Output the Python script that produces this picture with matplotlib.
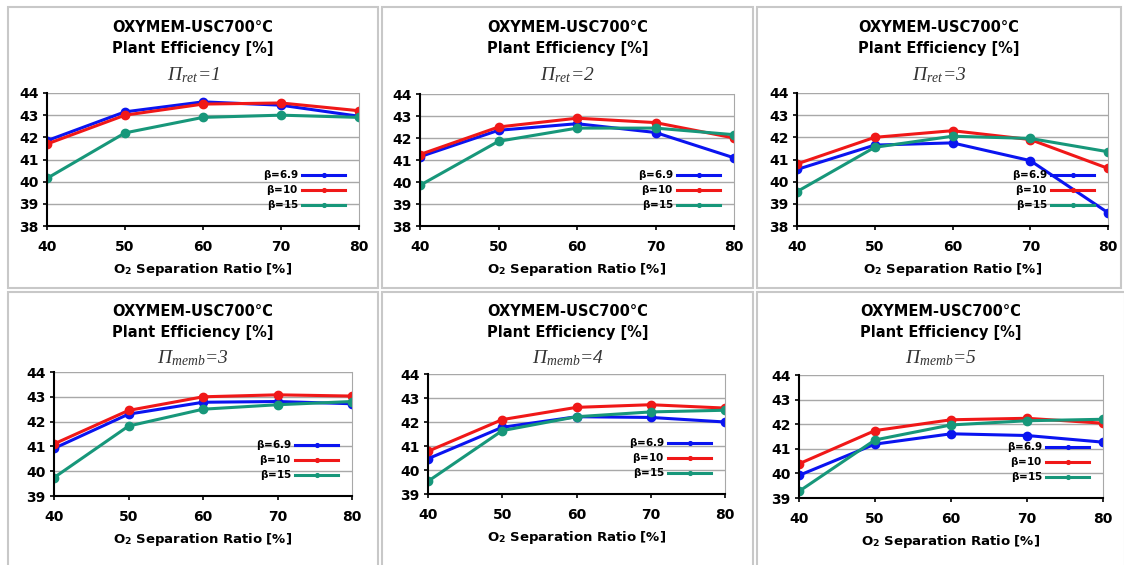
import matplotlib
matplotlib.use("Agg")
import matplotlib.pyplot as plt
from matplotlib.patches import Rectangle

plt.rcParams['font.family'] = ['DejaVu Sans']
plt.rcParams['mathtext.fontset'] = 'custom'
plt.rcParams['mathtext.rm'] = 'Liberation Serif:italic'
plt.rcParams['mathtext.it'] = 'Liberation Serif:italic'
plt.rcParams['mathtext.bf'] = 'DejaVu Sans:bold'

# O2 separation ratio [%]
ratio = [40, 50, 60, 70, 80]
betas = ['6.9', '10', '15']
colors = ['#0a14f0', '#f01818', '#17977a']

# plant efficiency [%] per panel, one list per beta (6.9, 10, 15)
ret1 = [[41.85, 43.15, 43.6, 43.45, 42.95],
        [41.7, 43.0, 43.5, 43.55, 43.2],
        [40.15, 42.2, 42.9, 43.0, 42.9]]
ret2 = [[41.15, 42.35, 42.65, 42.25, 41.1],
        [41.25, 42.5, 42.9, 42.7, 42.0],
        [39.85, 41.85, 42.45, 42.45, 42.15]]
ret3 = [[40.55, 41.65, 41.75, 40.95, 38.6],
        [40.8, 42.0, 42.3, 41.9, 40.6],
        [39.55, 41.55, 42.05, 41.95, 41.35]]
memb3 = [[40.92, 42.3, 42.78, 42.81, 42.72],
         [41.1, 42.45, 43.0, 43.08, 43.03],
         [39.74, 41.82, 42.5, 42.68, 42.81]]
memb4 = [[40.47, 41.78, 42.22, 42.19, 42.0],
         [40.78, 42.1, 42.61, 42.72, 42.58],
         [39.53, 41.64, 42.22, 42.42, 42.49]]
memb5 = [[39.92, 41.19, 41.61, 41.54, 41.27],
         [40.39, 41.74, 42.18, 42.24, 42.04],
         [39.27, 41.36, 41.97, 42.14, 42.2]]

subtitles = [r'$\Pi_{ret}$=1', r'$\Pi_{ret}$=2', r'$\Pi_{ret}$=3',
             r'$\Pi_{memb}$=3', r'$\Pi_{memb}$=4', r'$\Pi_{memb}$=5']
panels = [ret1, ret2, ret3, memb3, memb4, memb5]
ylims = [(38, 44), (38, 44), (38, 44), (39, 44), (39, 44), (39, 44)]

W, H = 1124, 565
# axes boxes in pixels: left, right, top, bottom
axes_px = [(47, 359, 93, 226), (420, 734, 94, 226), (797, 1108, 93, 226),
           (54, 352, 372, 496), (428, 725, 374, 494), (799, 1103, 375, 498)]
# panel frames in pixels: left, right, top, bottom
frames_px = [(8, 378, 7, 288), (382, 753, 7, 288), (757, 1121, 7, 288),
             (8, 378, 292, 575), (382, 753, 292, 575), (757, 1125, 292, 575)]
title_y = [(28, 48, 75)] * 3 + [(312, 332, 358)] * 3

fig = plt.figure(figsize=(W / 100, H / 100), dpi=100)

for i in range(6):
    fl, fr, ft, fb = frames_px[i]
    fig.add_artist(Rectangle((fl / W, 1 - fb / H), (fr - fl) / W, (fb - ft) / H,
                             transform=fig.transFigure, fill=False,
                             edgecolor='#c8c8c8', linewidth=1.5))
    l, r, t, b = axes_px[i]
    ax = fig.add_axes([l / W, 1 - b / H, (r - l) / W, (b - t) / H])
    for k in range(3):
        ax.plot(ratio, panels[i][k], color=colors[k], linewidth=2.2,
                marker='o', markersize=6, label=r'$\mathbf{\beta}$=' + betas[k])
    ax.set_xlim(40, 80)
    ax.set_ylim(*ylims[i])
    ax.set_xticks(ratio)
    ax.set_yticks(range(ylims[i][0], 45))
    ax.yaxis.grid(True, color='#a8a8a8', linewidth=1)
    ax.set_axisbelow(True)
    ax.spines['top'].set_visible(False)
    ax.spines['right'].set_color('#a8a8a8')
    ax.spines['left'].set_linewidth(1.5)
    ax.spines['bottom'].set_linewidth(1.5)
    ax.tick_params(axis='both', labelsize=10, width=1.2, length=3, pad=3)
    for lab in ax.get_xticklabels() + ax.get_yticklabels():
        lab.set_fontweight('bold')
    ax.tick_params(axis='x', pad=7)
    ax.set_xlabel(r'O$_\mathbf{2}$ Separation Ratio [%]', fontsize=9.5,
                  fontweight='bold', labelpad=5)
    leg = ax.legend(loc='lower right', markerfirst=False, frameon=False,
                    fontsize=7.5, handlelength=4.2, labelspacing=0.1,
                    markerscale=0.45, borderaxespad=0.9, handletextpad=0.3)
    for txt in leg.get_texts():
        txt.set_fontweight('bold')
    cx = (fl + fr) / 2 / W
    y1, y2, y3 = title_y[i]
    fig.text(cx, 1 - y1 / H, 'OXYMEM-USC700°C', ha='center', va='center',
             fontsize=10.5, fontweight='bold')
    fig.text(cx, 1 - y2 / H, 'Plant Efficiency [%]', ha='center', va='center',
             fontsize=10.5, fontweight='bold')
    fig.text(cx, 1 - y3 / H, subtitles[i], ha='center', va='center',
             fontsize=14, family='Liberation Serif', style='italic',
             color='#333333')

fig.savefig('out.png', dpi=100)
